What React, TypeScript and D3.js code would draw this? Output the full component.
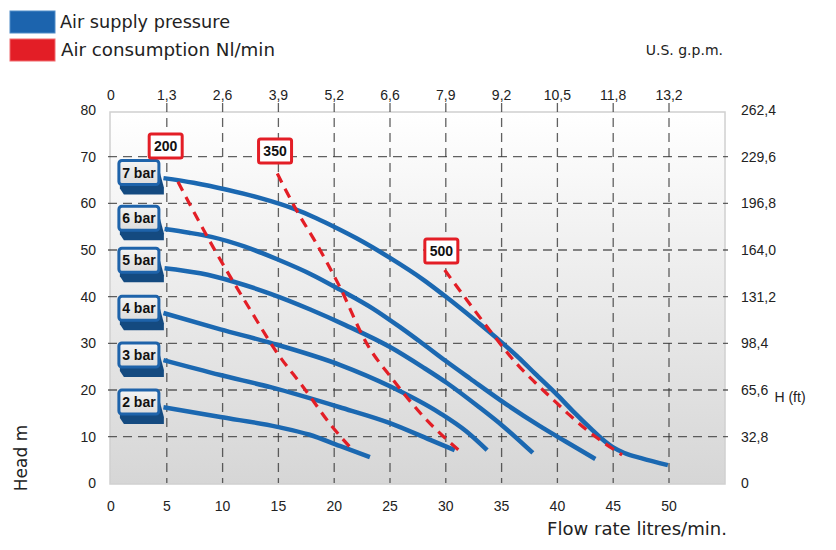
import React from "react";
import * as d3 from "d3";

// ---- data ----
const flowTicks = [0, 5, 10, 15, 20, 25, 30, 35, 40, 45, 50];
const gpmLabels = ["0", "1,3", "2,6", "3,9", "5,2", "6,6", "7,9", "9,2", "10,5", "11,8", "13,2"];
const headTicks = [0, 10, 20, 30, 40, 50, 60, 70, 80];
const ftLabels = ["0", "32,8", "65,6", "98,4", "131,2", "164,0", "196,8", "229,6", "262,4"];

const pressureNames = ["7 bar", "6 bar", "5 bar", "4 bar", "3 bar", "2 bar"];
const pressureLabelHead = [66.6, 56.8, 47.8, 37.5, 27.5, 17.4];
const bar7: [number, number][] = [[4.7, 65.4], [7.4, 64.4], [10.4, 62.9], [13.4, 61.1], [16.3, 58.9], [18.4, 56.8], [20.3, 54.6], [22, 52.5], [25, 48.3], [28, 43.6], [30.1, 39.8], [32.5, 35.2], [35, 30.2], [36.5, 27], [38, 23.5], [40, 18.9], [41.5, 15.2], [43, 11.7], [44, 9.5], [45, 7.7], [46, 6.5], [47.5, 5.4], [49.9, 3.9]];
const bar6: [number, number][] = [[4.8, 54.5], [7, 53.7], [9, 52.8], [12, 50.7], [15, 47.9], [18, 44.7], [20.5, 41.5], [23.5, 37.4], [26, 33.3], [28, 29.8], [30, 26.2], [32.2, 22.4], [35.5, 16.8], [38.4, 12.3], [40.7, 9], [43.4, 5.2]];
const bar5: [number, number][] = [[4.8, 46.1], [8, 45], [11, 43.2], [14.3, 40.6], [17.8, 37.3], [21, 33.9], [25, 29.2], [28, 24.8], [30.1, 21.5], [33, 16.3], [35.1, 12.3], [37.8, 6.5]];
const bar4: [number, number][] = [[4.7, 36.5], [9.8, 33], [14.3, 30.1], [20.5, 25.4], [25, 20.8], [29.5, 15], [31.8, 11.2], [33.7, 7.1]];
const bar3: [number, number][] = [[4.7, 26.4], [9.8, 23.2], [14.3, 20.6], [20.5, 16.3], [25, 12.9], [28.6, 9.3], [30.8, 7.1]];
const bar2: [number, number][] = [[4.7, 16.3], [9.8, 14.2], [14.9, 12.1], [17.8, 10.4], [20.5, 8.0], [23.2, 5.6]];
const pressureSeries = [bar7, bar6, bar5, bar4, bar3, bar2];

const airNames = ["200", "350", "500"];
const airLabelFlow = [4.9, 14.7, 29.6];
const airLabelHead = [72.3, 71.2, 49.8];
const air200: [number, number][] = [[6.0, 64.6], [9.2, 50.4], [12.5, 37.1], [14.9, 27.9], [17.2, 20.7], [19.9, 11.9], [21.4, 7.8]];
const air350: [number, number][] = [[14.9, 66.4], [16.6, 58.6], [18.4, 51.4], [20.5, 42.1], [22.9, 30.0], [25.3, 22.1], [28.0, 14.3], [31.3, 6.8]];
const air500: [number, number][] = [[29.9, 45.7], [31.6, 40.2], [34, 32.6], [36.4, 25.5], [38, 21.6], [39.5, 18.2], [41.1, 14.6], [42.6, 11.5], [44.4, 8.3], [45.8, 6.1]];
const airSeries = [air200, air350, air500];

const BLUE = "#1b68b1";
const RED = "#e31e26";
const NUM_FONT = "'Liberation Sans', Arial, sans-serif";
const TITLE_FONT = "'DejaVu Sans', sans-serif";

export default function App() {
  const x = d3.scaleLinear().domain([0, 55]).range([111, 724.8]);
  const y = d3.scaleLinear().domain([0, 80]).range([483.3, 110]);
  const line = d3
    .line<[number, number]>()
    .x((d) => x(d[0]))
    .y((d) => y(d[1]))
    .curve(d3.curveMonotoneX);

  const boxL = 110, boxR = 725, boxT = 112, boxB = 484;

  return (
    <svg width={836} height={550} style={{ position: "absolute", left: 0, top: 0, background: "#fff" }}>
      <defs>
        <linearGradient id="bg" x1="0" y1="0" x2="0" y2="1">
          <stop offset="0" stopColor="#ffffff" />
          <stop offset="1" stopColor="#d6d6d6" />
        </linearGradient>
        <linearGradient id="face" x1="0" y1="0" x2="0" y2="1">
          <stop offset="0" stopColor="#f4f4f4" />
          <stop offset="1" stopColor="#dcdcdc" />
        </linearGradient>
      </defs>

      {/* legend */}
      <rect x={10} y={11} width={45} height={22} fill="#1c64ae" stroke="#4f8cc8" strokeWidth={1} />
      <rect x={10} y={39} width={45} height={22} fill={RED} stroke="#f06a6e" strokeWidth={1} />
      <text x={60} y={28} fontFamily={TITLE_FONT} fontSize={17} fill="#222" textLength={170} lengthAdjust="spacingAndGlyphs">Air supply pressure</text>
      <text x={61} y={56} fontFamily={TITLE_FONT} fontSize={17} fill="#222" textLength={214} lengthAdjust="spacingAndGlyphs">Air consumption Nl/min</text>

      <text x={723} y={55} textAnchor="end" fontFamily={TITLE_FONT} fontSize={14} fill="#222">U.S. g.p.m.</text>

      {/* plot background */}
      <rect x={boxL} y={boxT} width={boxR - boxL} height={boxB - boxT} fill="url(#bg)" stroke="#d0d0d0" strokeWidth={1.5} />

      {/* grid */}
      {flowTicks.filter((v) => v > 0).map((v) => (
        <line key={"vg" + v} x1={x(v)} x2={x(v)} y1={103} y2={483} stroke="#3a3a3a" strokeOpacity={0.8} strokeWidth={1.3} strokeDasharray="9 6" />
      ))}
      {headTicks.filter((v) => v > 0 && v < 80).map((v) => (
        <line key={"hg" + v} x1={108} x2={728} y1={y(v)} y2={y(v)} stroke="#3a3a3a" strokeOpacity={0.8} strokeWidth={1.3} strokeDasharray="9 6" />
      ))}

      {/* tick labels */}
      {flowTicks.map((v) => (
        <text key={"bt" + v} x={x(v)} y={511} textAnchor="middle" fontFamily={NUM_FONT} fontSize={14} fill="#222">{v}</text>
      ))}
      {flowTicks.map((v, i) => (
        <text key={"tt" + v} x={x(v)} y={100} textAnchor="middle" fontFamily={NUM_FONT} fontSize={14} fill="#222">{gpmLabels[i]}</text>
      ))}
      {headTicks.map((v) => (
        <text key={"lt" + v} x={96} y={y(v) + 5} textAnchor="end" fontFamily={NUM_FONT} fontSize={14} fill="#222">{v}</text>
      ))}
      {headTicks.map((v, i) => (
        <text key={"rt" + v} x={741} y={y(v) + 5} textAnchor="start" fontFamily={NUM_FONT} fontSize={14} fill="#222">{ftLabels[i]}</text>
      ))}

      {/* axis titles */}
      <text x={637} y={535} textAnchor="middle" fontFamily={TITLE_FONT} fontSize={17} fill="#222" textLength={180} lengthAdjust="spacingAndGlyphs">Flow rate litres/min.</text>
      <text x={790} y={402} textAnchor="middle" fontFamily={NUM_FONT} fontSize={14} fill="#222">H (ft)</text>
      <text transform="translate(27,458) rotate(-90)" textAnchor="middle" fontFamily={TITLE_FONT} fontSize={17} fill="#222">Head m</text>

      {/* pressure curves */}
      {pressureSeries.map((s, i) => (
        <path key={"p" + i} d={line(s) || ""} fill="none" stroke={BLUE} strokeWidth={4.5} strokeLinecap="butt" strokeLinejoin="round" />
      ))}

      {/* air consumption curves */}
      {airSeries.map((s, i) => (
        <path key={"a" + i} d={line(s) || ""} fill="none" stroke={RED} strokeWidth={3.2} strokeDasharray="10 7" />
      ))}

      {/* pressure labels */}
      {pressureNames.map((n, i) => {
        const cx = x(2.5);
        const cy = y(pressureLabelHead[i]);
        const w = 40, h = 24;
        const lx = cx - w / 2, ly = cy - h / 2;
        return (
          <g key={"pl" + i}>
            <path d={`M${lx + 1},${ly + h / 2} L${lx + w + 1},${ly + h / 2} L${lx + w + 5},${ly + h + 3} L${lx + w + 5},${ly + h + 10} L${lx + 5},${ly + h + 10} L${lx + 1},${ly + h + 4} Z`} fill="#144a80" />
            <rect x={lx} y={ly} width={w} height={h} rx={3} fill="url(#face)" stroke="#1e63aa" strokeWidth={3} />
            <text x={cx} y={cy + 5} textAnchor="middle" fontFamily={NUM_FONT} fontWeight="bold" fontSize={14} fill="#111">{n}</text>
          </g>
        );
      })}

      {/* air labels */}
      {airNames.map((n, i) => {
        const cx = x(airLabelFlow[i]);
        const cy = y(airLabelHead[i]);
        const w = 33, h = 24;
        return (
          <g key={"al" + i}>
            <rect x={cx - w / 2} y={cy - h / 2} width={w} height={h} rx={2} fill="#fff" stroke={RED} strokeWidth={3} />
            <text x={cx} y={cy + 5} textAnchor="middle" fontFamily={NUM_FONT} fontWeight="bold" fontSize={14} fill="#111">{n}</text>
          </g>
        );
      })}
    </svg>
  );
}
